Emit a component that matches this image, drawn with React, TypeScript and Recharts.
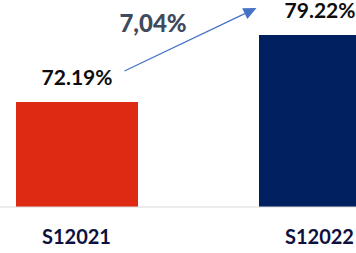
import React from "react";
import {
  BarChart,
  Bar,
  XAxis,
  YAxis,
  Cell,
  LabelList,
  ReferenceLine,
  ReferenceDot,
} from "recharts";

const categories = ["S12021", "S12022"];
const values = [72.19, 79.22];
const valueLabels = ["72.19%", "79.22%"];
const barColors = ["#DE2A12", "#002060"];
const changeLabel = "7,04%";
// arrow annotation anchors (numeric band axis 0..2, value axis)
const arrowFrom = { x: 0.6975, y: 75.44 };
const arrowTo = { x: 1.2407, y: 82.05 };
const changeLabelPos = { x: 0.815, y: 80.53 };

const data = categories.map((c, i) => ({
  name: c,
  value: values[i],
  label: valueLabels[i],
  pos: i + 0.5,
}));

const FONT = "Lato, 'Open Sans', sans-serif";

const ArrowShape = (props: any) => {
  const { x1, y1, x2, y2 } = props;
  if ([x1, y1, x2, y2].some((v) => typeof v !== "number" || isNaN(v))) return null;
  const dx = x2 - x1;
  const dy = y2 - y1;
  const len = Math.sqrt(dx * dx + dy * dy);
  const ux = dx / len;
  const uy = dy / len;
  const headLen = 13;
  const headHalf = 6;
  const bx = x2 - ux * headLen;
  const by = y2 - uy * headLen;
  const px = -uy;
  const py = ux;
  return (
    <g>
      <line x1={x1} y1={y1} x2={bx} y2={by} stroke="#4472C4" strokeWidth={1.2} />
      <polygon
        points={`${x2},${y2} ${bx + px * headHalf},${by + py * headHalf} ${bx - px * headHalf},${by - py * headHalf}`}
        fill="#4472C4"
      />
    </g>
  );
};

const ChangeLabel = (props: any) => {
  const vb = props.viewBox || {};
  const cx = (vb.x ?? 0) + (vb.width ?? 0) / 2;
  const cy = (vb.y ?? 0) + (vb.height ?? 0) / 2;
  return (
    <text
      x={cx}
      y={cy}
      textAnchor="middle"
      dominantBaseline="central"
      fill="#3F4A5C"
      fontSize={24}
      fontWeight={900}
      fontFamily={FONT}
    >
      {changeLabel}
    </text>
  );
};

export default function App() {
  return (
    <div
      style={{
        position: "fixed",
        left: 0,
        top: 0,
        width: 356,
        height: 253,
        overflow: "hidden",
        background: "#ffffff",
      }}
    >
      <div style={{ position: "absolute", left: -45.5, top: 0 }}>
        <BarChart
          width={486}
          height={253}
          data={data}
          margin={{ top: 0, right: 0, bottom: 0, left: 0 }}
        >
          <XAxis
            dataKey="name"
            height={46}
            axisLine={{ stroke: "#D9D9D9", strokeWidth: 1 }}
            tickLine={false}
            tickSize={0}
            tickMargin={23}
            interval={0}
            tick={{ fill: "#0E1040", fontSize: 20, fontWeight: 700, fontFamily: FONT }}
          />
          <XAxis
            xAxisId="n"
            dataKey="pos"
            type="number"
            domain={[0, 2]}
            allowDataOverflow
            padding={{ left: 0, right: 0 }}
            hide
          />
          <YAxis hide domain={[61.17, 82.89]} allowDataOverflow width={0} />
          <Bar dataKey="value" barSize={122} isAnimationActive={false}>
            {data.map((d, i) => (
              <Cell key={d.name} fill={barColors[i]} />
            ))}
            <LabelList
              dataKey="label"
              position="top"
              offset={17}
              style={{ fill: "#0D0D0D", fontSize: 21, fontWeight: 700, fontFamily: FONT }}
            />
          </Bar>
          <ReferenceLine
            xAxisId="n"
            segment={[arrowFrom, arrowTo]}
            shape={ArrowShape}
            ifOverflow="visible"
          />
          <ReferenceDot
            xAxisId="n"
            x={changeLabelPos.x}
            y={changeLabelPos.y}
            r={1}
            fill="none"
            stroke="none"
            ifOverflow="visible"
            label={<ChangeLabel />}
          />
        </BarChart>
      </div>
    </div>
  );
}
